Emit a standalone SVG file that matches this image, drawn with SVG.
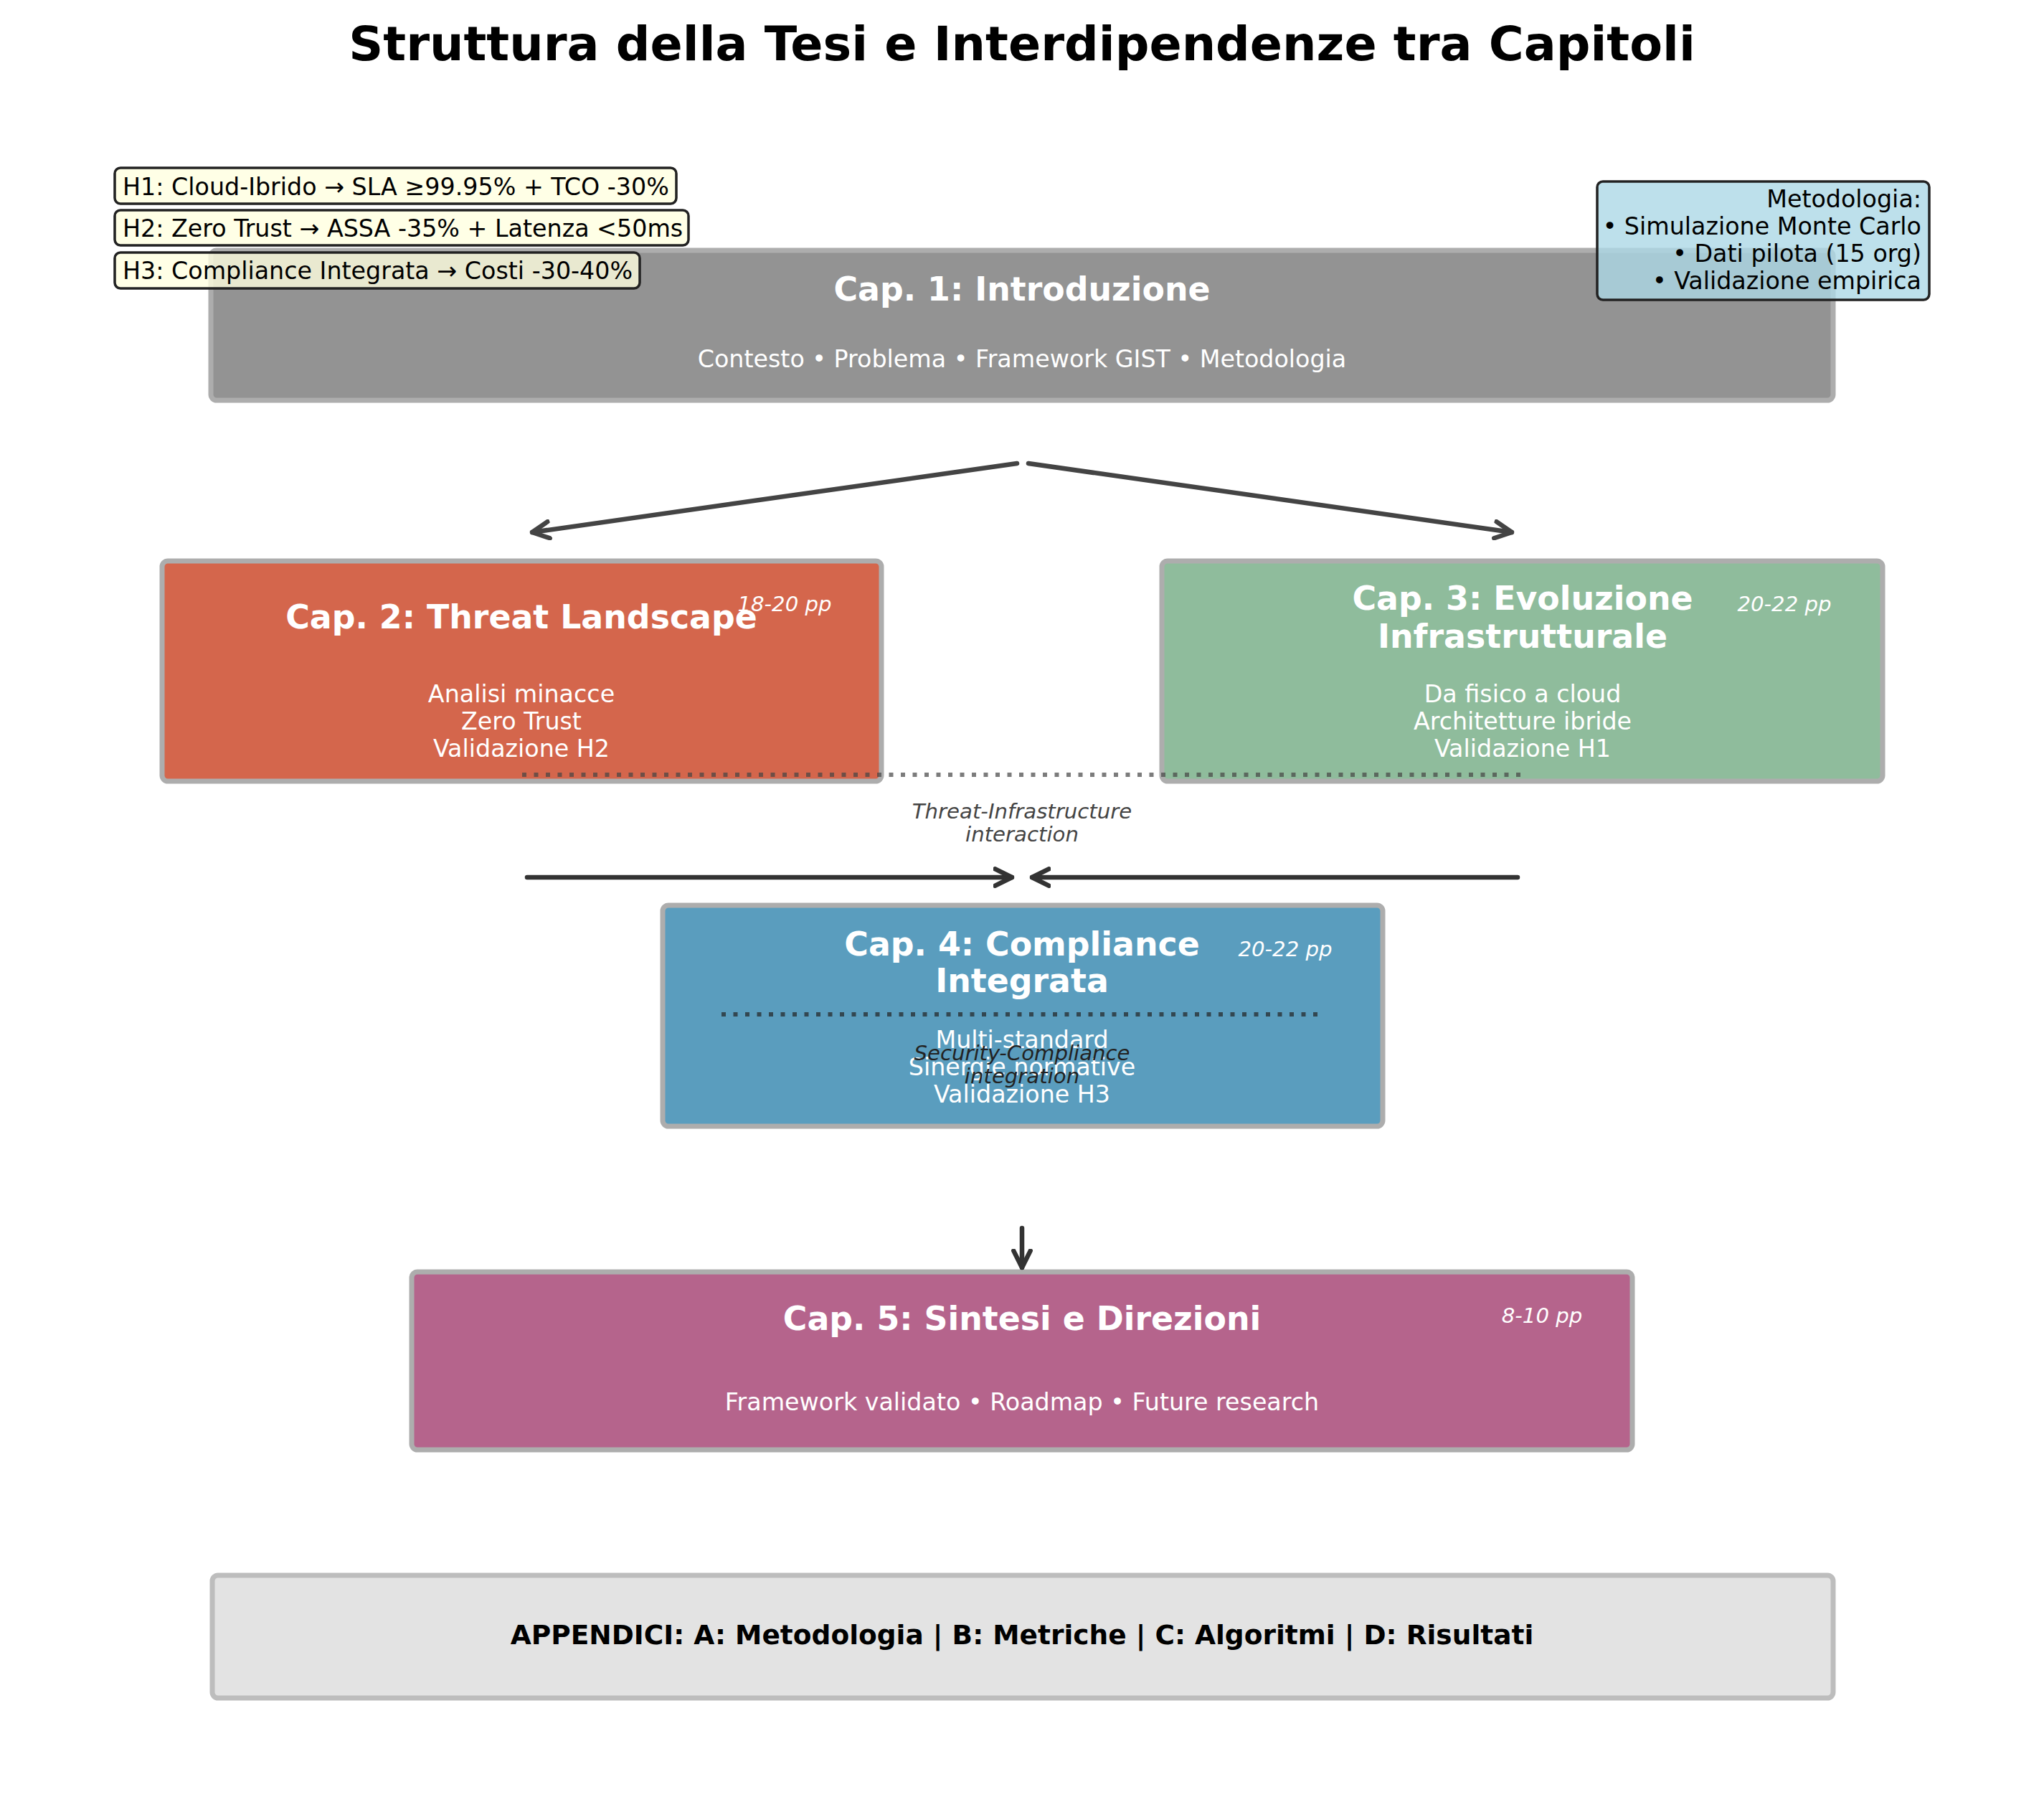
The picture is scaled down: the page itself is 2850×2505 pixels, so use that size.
<svg xmlns="http://www.w3.org/2000/svg" width="2850" height="2505" viewBox="0 0 2850 2505">
<defs>
<style>
text{font-family:"DejaVu Sans","Liberation Sans",sans-serif;}
.title{font-size:66.7px;font-weight:bold;fill:#000;text-anchor:middle;}
.box{stroke:#adadad;stroke-width:7;}
.ct{font-size:45.8px;font-weight:bold;fill:#fff;text-anchor:middle;dominant-baseline:central;}
.cb{font-size:33.3px;fill:#fff;text-anchor:middle;dominant-baseline:central;}
.pp{font-size:29.2px;font-style:italic;fill:#fff;text-anchor:middle;dominant-baseline:central;}
.hyp{fill:#ffffe0;fill-opacity:0.8;stroke:#222;stroke-width:3.5;}
.ht{font-size:33.3px;fill:#000;dominant-baseline:central;}
.mt{font-size:33.3px;fill:#000;text-anchor:end;dominant-baseline:central;}
.lbl{font-size:29.2px;font-style:italic;fill:#444;text-anchor:middle;dominant-baseline:central;}
.arr{fill:none;stroke:#444;stroke-width:6.5;stroke-linecap:round;}
.arr2{fill:none;stroke:#333;stroke-width:6.5;stroke-linecap:round;}
.dot{fill:none;stroke:#444;stroke-opacity:0.7;stroke-width:6;stroke-dasharray:6 10.5;}
</style>
<marker id="ah" viewBox="0 0 10 10" refX="9" refY="5" markerWidth="4.5" markerHeight="4.5" orient="auto" markerUnits="strokeWidth">
<path d="M1,1 L9,5 L1,9" fill="none" stroke="#444" stroke-width="2.2" stroke-linecap="round" stroke-linejoin="round"/>
</marker>
<marker id="ah2" viewBox="0 0 10 10" refX="9" refY="5" markerWidth="4.5" markerHeight="4.5" orient="auto" markerUnits="strokeWidth">
<path d="M1,1 L9,5 L1,9" fill="none" stroke="#333" stroke-width="2.2" stroke-linecap="round" stroke-linejoin="round"/>
</marker>
</defs>
<rect width="2850" height="2505" fill="#fff"/>
<text class="title" x="1425" y="84">Struttura della Tesi e Interdipendenze tra Capitoli</text>

<g id="cap1">
<rect class="box" x="294" y="349" width="2262" height="209" rx="8" fill="#939393"/>
<text class="ct" x="1425" y="403">Cap. 1: Introduzione</text>
<text class="cb" x="1425" y="500">Contesto • Problema • Framework GIST • Metodologia</text>
</g>

<g id="hypotheses">
<g id="h1"><rect class="hyp" x="160" y="234" width="783" height="50" rx="8"/><text class="ht" x="171" y="260">H1: Cloud-Ibrido → SLA ≥99.95% + TCO -30%</text></g>
<g id="h2"><rect class="hyp" x="160" y="293" width="800" height="49" rx="8"/><text class="ht" x="171" y="318">H2: Zero Trust → ASSA -35% + Latenza &lt;50ms</text></g>
<g id="h3"><rect class="hyp" x="160" y="352" width="732" height="50" rx="8"/><text class="ht" x="171" y="377">H3: Compliance Integrata → Costi -30-40%</text></g>
</g>

<g id="metodologia">
<rect x="2227" y="253" width="463" height="165" rx="8" fill="#add8e6" fill-opacity="0.8" stroke="#222" stroke-width="3.5"/>
<text class="mt" x="2679" y="277">Metodologia:</text>
<text class="mt" x="2679" y="315">• Simulazione Monte Carlo</text>
<text class="mt" x="2679" y="353">• Dati pilota (15 org)</text>
<text class="mt" x="2679" y="391">• Validazione empirica</text>
</g>

<g id="cap2">
<rect class="box" x="226" y="782" width="1003" height="307" rx="8" fill="#d4664c"/>
<text class="ct" x="727" y="860">Cap. 2: Threat Landscape</text>
<text class="pp" x="1094" y="842">18-20 pp</text>
<text class="cb" x="727" y="967">Analisi minacce</text>
<text class="cb" x="727" y="1005">Zero Trust</text>
<text class="cb" x="727" y="1043">Validazione H2</text>
</g>

<g id="cap3">
<rect class="box" x="1620" y="782" width="1005" height="307" rx="8" fill="#8fbc9c"/>
<text class="ct" x="2123" y="834">Cap. 3: Evoluzione</text>
<text class="ct" x="2123" y="887">Infrastrutturale</text>
<text class="pp" x="2488" y="842">20-22 pp</text>
<text class="cb" x="2123" y="967">Da fisico a cloud</text>
<text class="cb" x="2123" y="1005">Architetture ibride</text>
<text class="cb" x="2123" y="1043">Validazione H1</text>
</g>

<g id="cap4">
<rect class="box" x="924" y="1262" width="1004" height="308" rx="8" fill="#5a9dbe"/>
<text class="ct" x="1425" y="1316">Cap. 4: Compliance</text>
<text class="ct" x="1425" y="1367">Integrata</text>
<text class="pp" x="1792" y="1323">20-22 pp</text>
<text class="cb" x="1425" y="1449">Multi-standard</text>
<text class="cb" x="1425" y="1487">Sinergie normative</text>
<text class="cb" x="1425" y="1525">Validazione H3</text>
</g>

<g id="cap5">
<rect class="box" x="574" y="1773" width="1702" height="248" rx="8" fill="#b5648c"/>
<text class="ct" x="1425" y="1838">Cap. 5: Sintesi e Direzioni</text>
<text class="pp" x="2150" y="1834">8-10 pp</text>
<text class="cb" x="1425" y="1954">Framework validato • Roadmap • Future research</text>
</g>

<g id="appendici">
<rect x="296" y="2196" width="2260" height="171" rx="8" fill="#e3e3e3" stroke="#bdbdbd" stroke-width="7"/>
<text x="1425" y="2279" font-size="37.5px" font-weight="bold" fill="#000" text-anchor="middle" dominant-baseline="central">APPENDICI: A: Metodologia | B: Metriche | C: Algoritmi | D: Risultati</text>
</g>

<g id="connectors">
<line class="arr" x1="1418" y1="646" x2="742" y2="742" marker-end="url(#ah)"/>
<line class="arr" x1="1434" y1="646" x2="2108" y2="742" marker-end="url(#ah)"/>
<line class="dot" x1="728" y1="1080" x2="2123" y2="1080"/>
<text class="lbl" x="1425" y="1131">Threat-Infrastructure</text>
<text class="lbl" x="1425" y="1163">interaction</text>
<line class="arr2" x1="735" y1="1223" x2="1411" y2="1223" marker-end="url(#ah2)"/>
<line class="arr2" x1="2116" y1="1223" x2="1439" y2="1223" marker-end="url(#ah2)"/>
<line class="dot" x1="1006" y1="1414" x2="1842" y2="1414" style="stroke:#222;stroke-opacity:0.7"/>
<text class="lbl" x="1425" y="1468" style="fill:#222">Security-Compliance</text>
<text class="lbl" x="1425" y="1500" style="fill:#222">integration</text>
<line class="arr2" x1="1425" y1="1712" x2="1425" y2="1767" marker-end="url(#ah2)"/>
</g>
</svg>
